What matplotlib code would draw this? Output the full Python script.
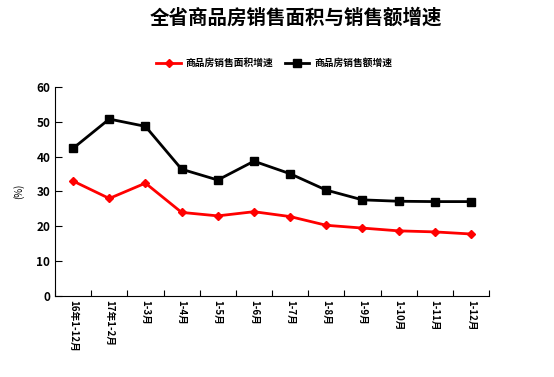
import matplotlib
matplotlib.use("Agg")
import matplotlib.pyplot as plt
import numpy as np

plt.rcParams['font.family'] = ['Noto Sans CJK SC', 'DejaVu Sans']
plt.rcParams['font.weight'] = 'bold'

# data
months = ['16年1-12月', '17年1-2月', '1-3月', '1-4月', '1-5月', '1-6月',
          '1-7月', '1-8月', '1-9月', '1-10月', '1-11月', '1-12月']
area_growth = [33.0, 28.0, 32.4, 24.0, 23.0, 24.2, 22.8, 20.3, 19.5, 18.7, 18.4, 17.8]
sales_growth = [42.4, 50.8, 48.7, 36.4, 33.3, 38.7, 35.1, 30.4, 27.6, 27.2, 27.1, 27.1]
area_name = '商品房销售面积增速'
sales_name = '商品房销售额增速'

fig = plt.figure(figsize=(5.54, 3.77), dpi=100)
ax = fig.add_axes([0.0993, 0.2149, 0.7834, 0.5543])

x = np.arange(len(months))
ax.plot(x, area_growth, color='#ff0000', lw=2, marker='D', ms=4, label=area_name)
ax.plot(x, sales_growth, color='black', lw=2, marker='s', ms=6, label=sales_name)

ax.set_xlim(-0.5, len(months) - 0.5)
ax.set_ylim(0, 60)
ax.set_yticks(range(0, 61, 10))
ax.set_xticks(np.arange(len(months) + 1) - 0.5)
ax.set_xticklabels([])
ax.set_xticks(x, minor=True)
ax.set_xticklabels(months, minor=True, rotation=-90, fontsize=7, va='top', ha='center')
ax.tick_params(axis='x', which='minor', length=0, pad=3)
ax.tick_params(axis='x', which='major', direction='in', length=4)
ax.tick_params(axis='y', direction='in', length=5, labelsize=8.5)
for s in ['top', 'right']:
    ax.spines[s].set_visible(False)

ax.set_ylabel('(%)', fontsize=7, labelpad=9)
fig.suptitle('全省商品房销售面积与销售额增速', fontsize=14, fontweight='bold', x=0.535, y=0.98)
fig.legend(loc='center', bbox_to_anchor=(0.495, 0.833), ncol=2, frameon=False,
           fontsize=7, handlelength=2.5, columnspacing=1.2, handletextpad=0.5)

fig.savefig('out.png', dpi=100)
